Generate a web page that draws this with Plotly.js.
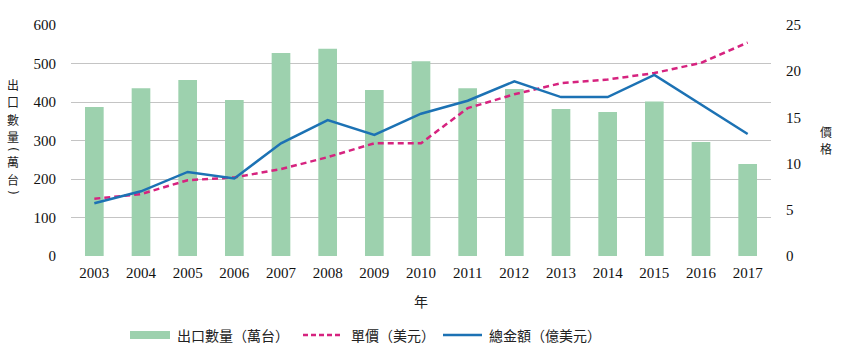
<!DOCTYPE html>
<html><head><meta charset="utf-8">
<script src="https://cdn.plot.ly/plotly-3.0.1.min.js"></script>
<style>body{margin:0;background:#fff}#chart{width:841px;height:350px}</style>
</head><body><div id="chart"></div>
<script>
var years = ['2003','2004','2005','2006','2007','2008','2009','2010','2011','2012','2013','2014','2015','2016','2017'];
var exportQty = [387,436,457,405,527,538,431,506,436,434,382,374,401,296,239];
var unitPrice = [6.2,6.7,8.2,8.5,9.4,10.7,12.2,12.2,16.0,17.5,18.7,19.1,19.8,20.9,23.1];
var totalValue = [5.7,7.0,9.1,8.4,12.2,14.7,13.1,15.4,16.8,18.9,17.2,17.2,19.6,16.4,13.2];
var names = ['出口數量（萬台）','單價（美元）','總金額（億美元）'];
var leftTitleChars = ['出','口','數','量','(','萬','台',')'];
var rightTitleChars = ['價','格'];

var cjk = '"Noto Sans CJK TC", "Noto Sans CJK SC", sans-serif';
var serif = '"Liberation Serif", "DejaVu Serif", serif';

var traces = [
  {type:'bar', x:years, y:exportQty, name:names[0], marker:{color:'#9dd1ae'}, width:0.4, showlegend:false},
  {type:'scatter', mode:'lines', x:years, y:unitPrice, name:names[1], yaxis:'y2', line:{color:'#d6237f', width:2.5, dash:'6px,4px'}, showlegend:false},
  {type:'scatter', mode:'lines', x:years, y:totalValue, name:names[2], yaxis:'y2', line:{color:'#1c72b4', width:2.5}, showlegend:false}
];

function py(Y){ return (256 - Y)/231; }
function px(X){ return (X - 71)/700; }

var shapes = [
  {type:'rect', xref:'paper', yref:'paper', x0:px(130), x1:px(170), y0:py(339), y1:py(331), fillcolor:'#9dd1ae', line:{width:0}},
  {type:'line', xref:'paper', yref:'paper', x0:px(303), x1:px(342), y0:py(335), y1:py(335), line:{color:'#d6237f', width:2.5, dash:'5px,3px'}},
  {type:'line', xref:'paper', yref:'paper', x0:px(443), x1:px(482), y0:py(335), y1:py(335), line:{color:'#1c72b4', width:2.5}}
];

var ann = [
  {xref:'paper', yref:'paper', x:px(175), y:py(335), xanchor:'left', yanchor:'middle', text:names[0], showarrow:false, font:{family:cjk, size:14, color:'#222'}},
  {xref:'paper', yref:'paper', x:px(349), y:py(335), xanchor:'left', yanchor:'middle', text:names[1], showarrow:false, font:{family:cjk, size:14, color:'#222'}},
  {xref:'paper', yref:'paper', x:px(487), y:py(335), xanchor:'left', yanchor:'middle', text:names[2], showarrow:false, font:{family:cjk, size:14, color:'#222'}},
  {xref:'paper', yref:'paper', x:px(421), y:py(301), xanchor:'center', yanchor:'middle', text:'年', showarrow:false, font:{family:cjk, size:14, color:'#222'}}
];
var leftYs = [84,101.5,119,136.5,149,161.5,179,192];
leftTitleChars.forEach(function(c,i){
  var isParen = (c==='(' || c===')');
  ann.push({xref:'paper', yref:'paper', x:px(13), y:py(leftYs[i]), xanchor:'center', yanchor:'middle', text:c, showarrow:false,
    textangle: isParen ? 90 : 0, borderpad:0,
    font:{family: isParen ? '"DejaVu Sans", sans-serif' : cjk, size:12, color:'#222'}});
});
var rightYs = [131,148.5];
rightTitleChars.forEach(function(c,i){
  ann.push({xref:'paper', yref:'paper', x:px(826), y:py(rightYs[i]), xanchor:'center', yanchor:'middle', text:c, showarrow:false,
    borderpad:0, font:{family:cjk, size:12, color:'#222'}});
});

var layout = {
  width:841, height:350,
  margin:{l:71, r:70, t:25, b:94},
  paper_bgcolor:'#fff', plot_bgcolor:'#fff',
  showlegend:false,
  bargap:0.6,
  xaxis:{type:'category', showgrid:false, zeroline:false, showline:false, ticks:'',
         tickfont:{family:serif, size:15, color:'#111'}, ticklabelstandoff:6},
  yaxis:{range:[0,600], dtick:100, showgrid:true, gridcolor:'#c4c4c4', gridwidth:1, zeroline:false, showline:false, ticks:'',
         tickfont:{family:serif, size:15, color:'#111'}, ticklabelstandoff:14},
  yaxis2:{range:[0,25], dtick:5, overlaying:'y', side:'right', showgrid:false, zeroline:false, showline:false, ticks:'',
          tickfont:{family:serif, size:15, color:'#111'}, ticklabelstandoff:14},
  shapes:shapes,
  annotations:ann
};
Plotly.newPlot('chart', traces, layout, {staticPlot:true, displayModeBar:false});
</script></body></html>
